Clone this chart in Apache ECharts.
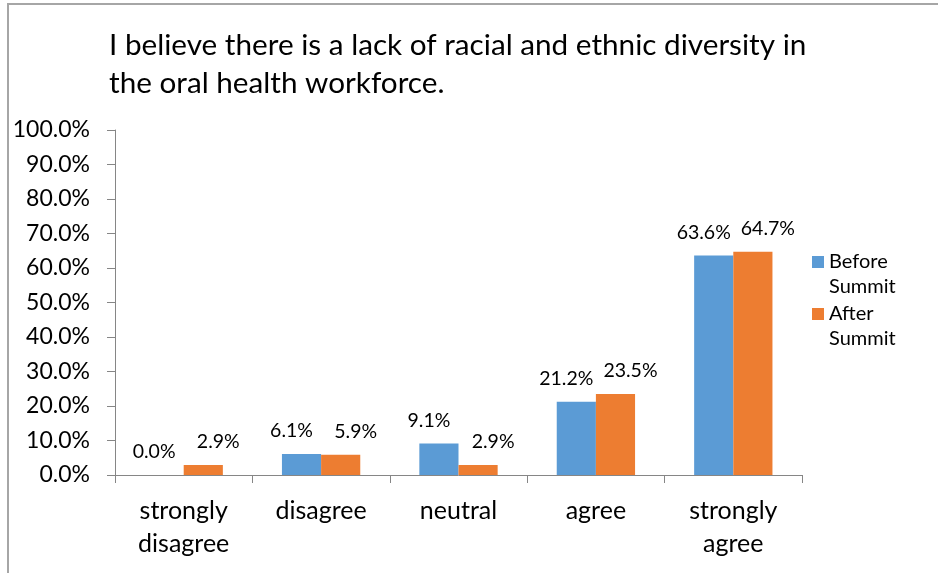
<!DOCTYPE html>
<html>
<head>
<meta charset="utf-8">
<script src="https://cdn.jsdelivr.net/npm/echarts@6/dist/echarts.min.js"></script>
<style>
html,body{margin:0;padding:0;background:#fff;}
#chart{width:938px;height:573px;}
</style>
</head>
<body>
<div id="chart"></div>
<script>
var titleText = 'I believe there is a lack of racial and ethnic diversity in\nthe oral health workforce.';
var categories = ['strongly disagree', 'disagree', 'neutral', 'agree', 'strongly agree'];
var seriesNames = ['Before Summit', 'After Summit'];
var beforeValues = [0.0, 6.1, 9.1, 21.2, 63.6];
var afterValues = [2.9, 5.9, 2.9, 23.5, 64.7];
var yTicks = {min: 0, max: 100, interval: 10};

var FONT = 'Lato';
var axisColor = '#868686';
var colors = ['#5B9BD5', '#ED7D31'];

var chart = echarts.init(document.getElementById('chart'), null, {renderer: 'canvas'});

// square drawn in the upper part of the icon box so it lines up with the first text line
var legendIcon = 'path://M0,0 L12,0 L12,12 L0,12 Z M0,37 L0.01,37 L0.01,37 Z';

function legendFor(name, top) {
  return {
    data: [name],
    orient: 'vertical',
    left: 812,
    top: top,
    padding: 0,
    itemWidth: 12,
    itemHeight: 37,
    icon: legendIcon,
    formatter: function (n) { return n.replace(' ', '\n'); },
    textStyle: {fontFamily: FONT, fontSize: 20, color: '#000', lineHeight: 25}
  };
}

var option = {
  animation: false,
  backgroundColor: '#fff',
  color: colors,
  title: {
    text: titleText,
    left: 109,
    top: 26,
    padding: 0,
    textStyle: {fontFamily: FONT, fontSize: 29.7, fontWeight: 'normal', color: '#000', lineHeight: 38}
  },
  legend: [legendFor(seriesNames[0], 249.5), legendFor(seriesNames[1], 301.5)],
  grid: {left: 115, right: 136, top: 130, bottom: 98, containLabel: false},
  xAxis: {
    type: 'category',
    data: categories,
    axisLine: {lineStyle: {color: axisColor, width: 1}},
    axisTick: {show: true, length: 8, lineStyle: {color: axisColor}},
    axisLabel: {
      color: '#000', fontFamily: FONT, fontSize: 25, lineHeight: 33, margin: 19,
      formatter: function (v) { return v.replace('strongly ', 'strongly\n'); }
    },
    splitLine: {show: false}
  },
  yAxis: {
    type: 'value',
    min: yTicks.min,
    max: yTicks.max,
    interval: yTicks.interval,
    axisLine: {show: true, lineStyle: {color: axisColor, width: 1}},
    axisTick: {show: true, length: 8, lineStyle: {color: axisColor}},
    axisLabel: {
      color: '#000', fontFamily: FONT, fontSize: 23, margin: 25,
      formatter: function (v) { return v.toFixed(1) + '%'; }
    },
    splitLine: {show: false}
  },
  series: [
    {
      name: seriesNames[0],
      type: 'bar',
      data: beforeValues,
      barGap: '0%',
      barCategoryGap: '43%',
      label: {
        show: true, position: 'top', distance: 13, offset: [-10, 0],
        fontFamily: FONT, fontSize: 19.5, color: '#000',
        formatter: function (p) { return p.value.toFixed(1) + '%'; }
      }
    },
    {
      name: seriesNames[1],
      type: 'bar',
      data: afterValues,
      barGap: '0%',
      barCategoryGap: '43%',
      label: {
        show: true, position: 'top', distance: 13, offset: [15, 0],
        fontFamily: FONT, fontSize: 19.5, color: '#000',
        formatter: function (p) { return p.value.toFixed(1) + '%'; }
      }
    }
  ],
  graphic: [{
    type: 'rect',
    shape: {x: 8, y: 4, width: 1200, height: 1200},
    style: {fill: 'none', stroke: '#a6a6a6', lineWidth: 2},
    silent: true,
    z: -1
  }]
};
chart.setOption(option);
</script>
</body>
</html>
